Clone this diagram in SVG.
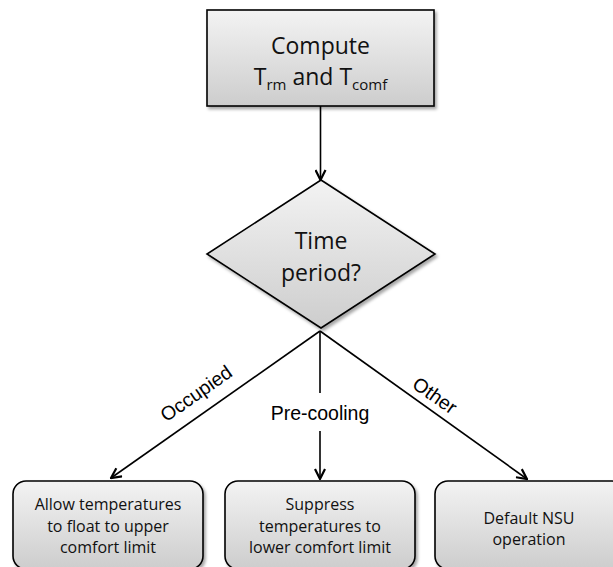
<svg xmlns="http://www.w3.org/2000/svg" width="613" height="567" viewBox="0 0 613 567">
<defs>
<linearGradient id="g" x1="0" y1="0" x2="0" y2="1">
<stop offset="0" stop-color="#f3f3f3"/>
<stop offset="1" stop-color="#cdcdcd"/>
</linearGradient>
<filter id="sh" x="-10%" y="-10%" width="130%" height="130%">
<feDropShadow dx="2" dy="2.5" stdDeviation="1.5" flood-color="#000" flood-opacity="0.35"/>
</filter>
<marker id="ah" viewBox="0 0 12 12" refX="11" refY="6" markerWidth="12" markerHeight="12" markerUnits="userSpaceOnUse" orient="auto">
<path d="M1,1 L11,6 L1,11" fill="none" stroke="#000" stroke-width="2.2" stroke-linejoin="miter"/>
</marker>
</defs>
<style>
.shape{fill:url(#g);stroke:#000;stroke-width:1.6;filter:url(#sh)}
.big{font-family:"Open Sans","Liberation Sans",sans-serif;font-size:23px;fill:#111;text-anchor:middle}
.box{font-family:"Open Sans","Liberation Sans",sans-serif;font-size:16px;fill:#111;text-anchor:middle}
.lbl{font-family:"Liberation Sans",Arial,sans-serif;font-size:19.5px;fill:#000;text-anchor:middle}
.conn{fill:none;stroke:#000;stroke-width:1.6;marker-end:url(#ah)}
.plain{fill:none;stroke:#000;stroke-width:1.6}
</style>
<g id="compute">
<rect class="shape" x="207" y="10" width="227" height="96"/>
<text class="big" x="320.5" y="54">Compute</text>
<text class="big" x="320.5" y="85">T<tspan font-size="15" dy="5">rm</tspan><tspan dy="-5"> and T</tspan><tspan font-size="15" dy="5">comf</tspan></text>
</g>
<g id="decision">
<polygon class="shape" points="321,180 435,254 321,328 207,254"/>
<text class="big" x="321" y="249">Time</text>
<text class="big" x="321" y="281">period?</text>
</g>
<g id="occupied">
<rect class="shape" x="13" y="481" width="190" height="88" rx="13" ry="13"/>
<text class="box" x="108" y="510">Allow temperatures</text>
<text class="box" x="108" y="532">to float to upper</text>
<text class="box" x="108" y="553">comfort limit</text>
</g>
<g id="precooling">
<rect class="shape" x="225" y="481" width="190" height="88" rx="13" ry="13"/>
<text class="box" x="320" y="510">Suppress</text>
<text class="box" x="320" y="532">temperatures to</text>
<text class="box" x="320" y="553">lower comfort limit</text>
</g>
<g id="other">
<rect class="shape" x="435" y="481" width="190" height="88" rx="13" ry="13"/>
<text class="box" x="529" y="524">Default NSU</text>
<text class="box" x="529" y="545">operation</text>
</g>
<g id="connectors">
<line class="conn" x1="320.5" y1="106" x2="320.5" y2="180"/>
<line class="conn" x1="320" y1="331" x2="111" y2="478"/>
<line class="plain" x1="320" y1="331" x2="320" y2="393"/>
<line class="conn" x1="320" y1="431" x2="320" y2="479"/>
<line class="conn" x1="320" y1="331" x2="527" y2="479"/>
<text class="lbl" transform="translate(200,399) rotate(-35)">Occupied</text>
<text class="lbl" x="320" y="420">Pre-cooling</text>
<text class="lbl" transform="translate(431,401) rotate(35)">Other</text>
</g>
</svg>
